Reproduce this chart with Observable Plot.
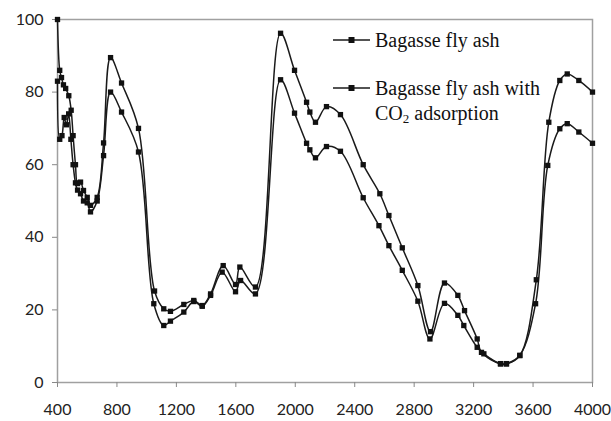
<!DOCTYPE html>
<html>
<head>
<meta charset="utf-8">
<script src="https://cdn.jsdelivr.net/npm/d3@7"></script>
<script src="https://cdn.jsdelivr.net/npm/@observablehq/plot@0.6"></script>
<style>
  html, body { margin: 0; padding: 0; background: #fff; }
  #wrap { position: relative; width: 611px; height: 421px; }
  #legend { position: absolute; left: 333px; top: 28px; font-family: "Liberation Serif", "Times New Roman", serif; font-size: 20px; color: #111; }
  .item { display: flex; align-items: flex-start; margin-bottom: 23px; }
  .item svg { flex: none; margin-top: 6px; margin-right: 4px; }
  .lbl { line-height: 25px; }
</style>
</head>
<body>
<div id="wrap"><div id="legend"></div></div>
<script>
const seriesNames = ["Bagasse fly ash", "Bagasse fly ash with CO\u2082 adsorption"];

const wavenumberA = [400, 415, 430, 445, 460, 475, 490, 505, 521, 535, 555, 575, 600, 622, 667, 710, 757, 831, 945, 1048, 1115, 1160, 1250, 1317, 1374, 1430, 1508, 1598, 1632, 1732, 1901, 1995, 2076, 2098, 2136, 2210, 2304, 2457, 2563, 2630, 2720, 2825, 2906, 3004, 3094, 3134, 3224, 3269, 3381, 3421, 3511, 3617, 3699, 3780, 3830, 3908, 4000];
const transmittanceA = [83, 67, 68, 73, 71, 74, 67, 60, 55, 53, 52, 50, 49.5, 47, 50, 62.5, 80, 74.5, 63.5, 21.7, 15.7, 16.9, 19.4, 22.3, 21, 24, 30.4, 25, 28.1, 24.4, 83.4, 74.2, 65.9, 64.1, 61.9, 65, 63.7, 50.9, 43.2, 37.7, 30.9, 22.4, 12, 21.8, 18.5, 15.7, 9.7, 7.9, 5.2, 5.2, 7.5, 21.7, 59.8, 69.9, 71.3, 69, 65.9];

const wavenumberB = [400, 415, 427, 440, 455, 476, 492, 505, 521, 535, 555, 575, 600, 622, 667, 710, 757, 831, 945, 1053, 1115, 1160, 1250, 1317, 1374, 1430, 1515, 1598, 1627, 1732, 1901, 1995, 2076, 2098, 2136, 2210, 2304, 2457, 2569, 2630, 2720, 2825, 2910, 3004, 3094, 3139, 3224, 3253, 3381, 3421, 3511, 3622, 3706, 3780, 3830, 3908, 4000];
const transmittanceB = [100, 86, 84, 82, 81, 79, 75, 68, 60, 54.8, 55.2, 52.9, 51, 48.8, 51, 66, 89.5, 82.5, 70, 25.2, 20.3, 19.6, 21.5, 22.6, 21.2, 24.4, 32.2, 27, 31.8, 26.3, 96.2, 86, 77.2, 74.5, 71.7, 76, 73.8, 60, 52, 46, 37.1, 26.7, 14, 27.4, 24, 19.8, 12, 8.3, 5.1, 5.1, 7.4, 28.3, 71.7, 83.2, 85, 83.2, 80];

const xTicks = [400, 800, 1200, 1600, 2000, 2400, 2800, 3200, 3600, 4000];
const yTicks = [0, 20, 40, 60, 80, 100];

const rows = [
  ...wavenumberA.map((w, i) => ({series: seriesNames[0], w, t: transmittanceA[i]})),
  ...wavenumberB.map((w, i) => ({series: seriesNames[1], w, t: transmittanceB[i]}))
];

const chart = Plot.plot({
  width: 611,
  height: 421,
  marginLeft: 57,
  marginRight: 19,
  marginTop: 19,
  marginBottom: 39,
  style: {fontFamily: "Lato, 'Open Sans', sans-serif", fontSize: "16px", color: "#222", background: "#fff"},
  x: {domain: [400, 4000]},
  y: {domain: [0, 100]},
  marks: [
    Plot.frame({stroke: "#a0a0a0", strokeWidth: 1.5}),
    Plot.axisX({ticks: xTicks, tickSize: 5, tickPadding: 16, stroke: "#888", fill: "#222", tickFormat: d => String(d), label: null}),
    Plot.axisY({ticks: yTicks, tickSize: 5, tickPadding: 9, stroke: "#888", fill: "#222", tickFormat: d => String(d), label: null}),
    Plot.line(rows, {x: "w", y: "t", z: "series", stroke: "#1a1a1a", strokeWidth: 1.5, curve: "catmull-rom"}),
    Plot.dot(rows, {x: "w", y: "t", symbol: "square", r: 3, fill: "#111", stroke: "none"})
  ]
});
document.getElementById("wrap").prepend(chart);

const legend = document.getElementById("legend");
const labelsHtml = ["Bagasse fly ash", "Bagasse fly ash with<br>CO<sub style='font-size:13px;vertical-align:-3px'>2</sub> adsorption"];
labelsHtml.forEach(h => {
  const item = document.createElement("div");
  item.className = "item";
  item.innerHTML = `<svg width="38" height="12"><line x1="0" x2="37" y1="6" y2="6" stroke="#1a1a1a" stroke-width="1.5"/><rect x="15.5" y="3" width="6" height="6" fill="#111"/></svg><span class="lbl">${h}</span>`;
  legend.appendChild(item);
});
</script>
</body>
</html>
